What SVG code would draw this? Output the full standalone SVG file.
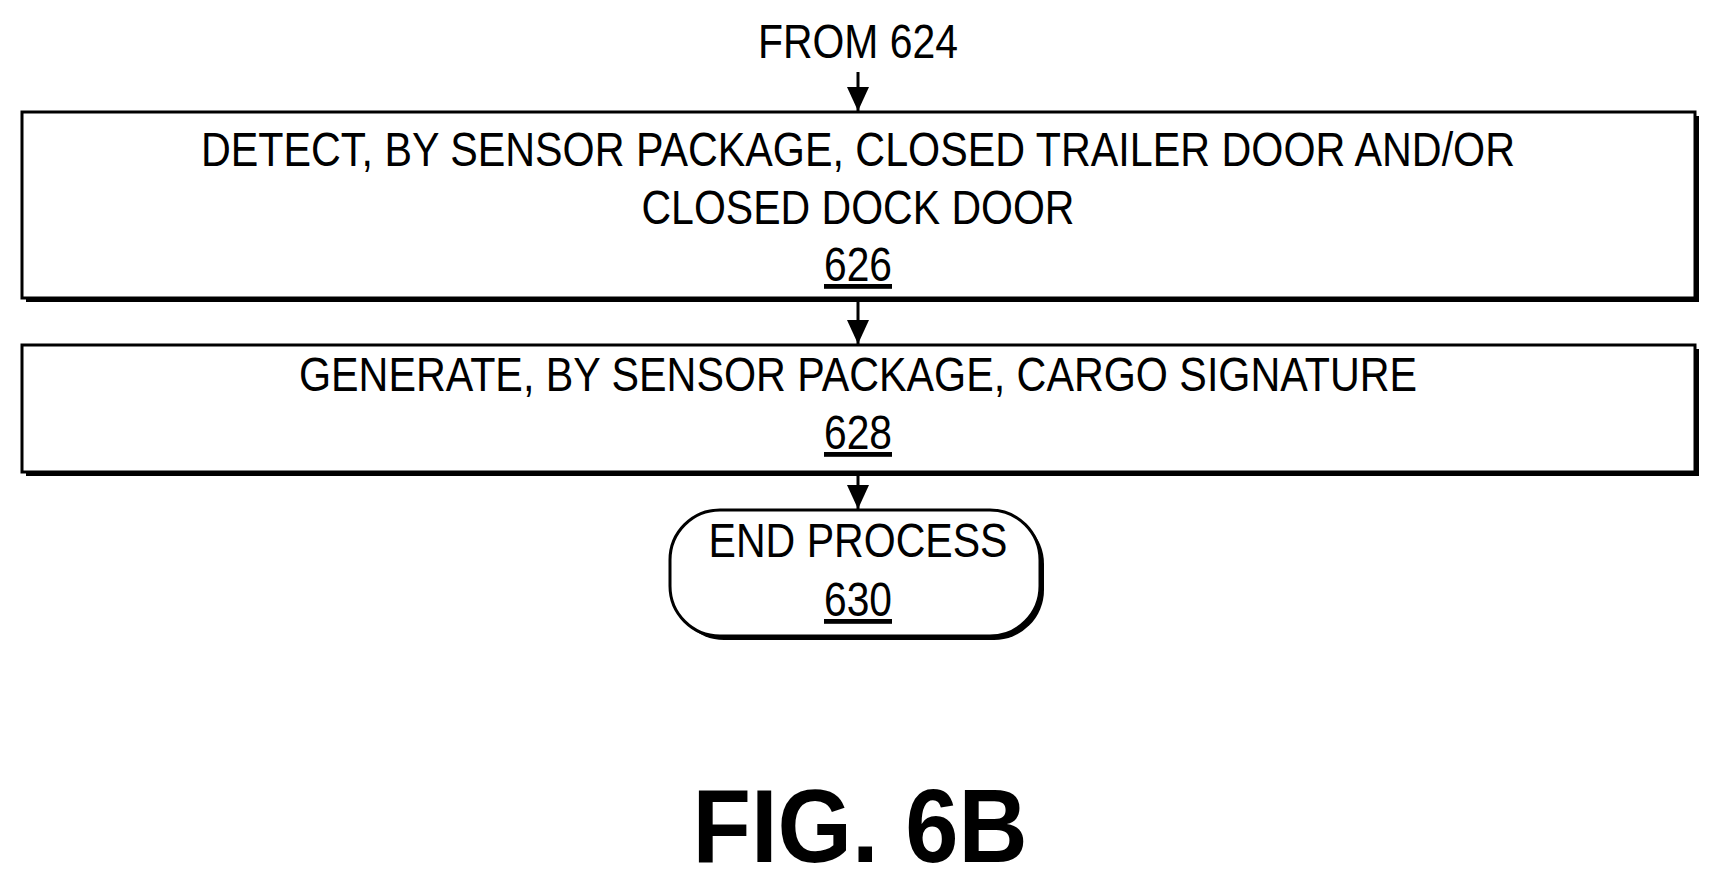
<svg xmlns="http://www.w3.org/2000/svg" width="1719" height="887" viewBox="0 0 1719 887">
<style>
text{font-family:"Liberation Sans",Arial,sans-serif;font-size:48px;fill:#000;text-anchor:middle}
.b{fill:#fff;stroke:#000;stroke-width:3}
.s{fill:#000}
.c{stroke:#000;stroke-width:3;marker-end:url(#m)}
</style>
<defs>
<marker id="m" viewBox="0 0 24 24" refX="24" refY="12" markerWidth="24" markerHeight="24" markerUnits="userSpaceOnUse" orient="auto"><path d="M0,1L24,12L0,23z"/></marker></defs>
<text x="858" y="58" textLength="200" lengthAdjust="spacingAndGlyphs">FROM 624</text>
<g id="connectors">
<line class="c" x1="858" y1="72" x2="858" y2="111"/>
<line class="c" x1="858" y1="302" x2="858" y2="344"/>
<line class="c" x1="858" y1="476" x2="858" y2="509"/>
</g>
<g id="n626">
<rect class="s" x="26" y="116" width="1673" height="186"/>
<rect class="b" x="22" y="112" width="1673" height="186"/>
<text x="858" y="166" textLength="1314" lengthAdjust="spacingAndGlyphs">DETECT, BY SENSOR PACKAGE, CLOSED TRAILER DOOR AND/OR</text>
<text x="858" y="224" textLength="433" lengthAdjust="spacingAndGlyphs">CLOSED DOCK DOOR</text>
<text x="858" y="281" textLength="68" lengthAdjust="spacingAndGlyphs" text-decoration="underline">626</text>
</g>
<g id="n628">
<rect class="s" x="26" y="349" width="1673" height="127"/>
<rect class="b" x="22" y="345" width="1673" height="127"/>
<text x="858" y="391" textLength="1118" lengthAdjust="spacingAndGlyphs">GENERATE, BY SENSOR PACKAGE, CARGO SIGNATURE</text>
<text x="858" y="449" textLength="68" lengthAdjust="spacingAndGlyphs" text-decoration="underline">628</text>
</g>
<g id="n630">
<rect class="s" x="674" y="514" width="370" height="126" rx="50"/>
<rect class="b" x="670" y="510" width="370" height="126" rx="50"/>
<text x="858" y="557" textLength="299" lengthAdjust="spacingAndGlyphs">END PROCESS</text>
<text x="858" y="616" textLength="68" lengthAdjust="spacingAndGlyphs" text-decoration="underline">630</text>
</g>
<text x="860" y="862" style="font-size:104px;font-weight:bold" textLength="335" lengthAdjust="spacingAndGlyphs">FIG. 6B</text>
</svg>
